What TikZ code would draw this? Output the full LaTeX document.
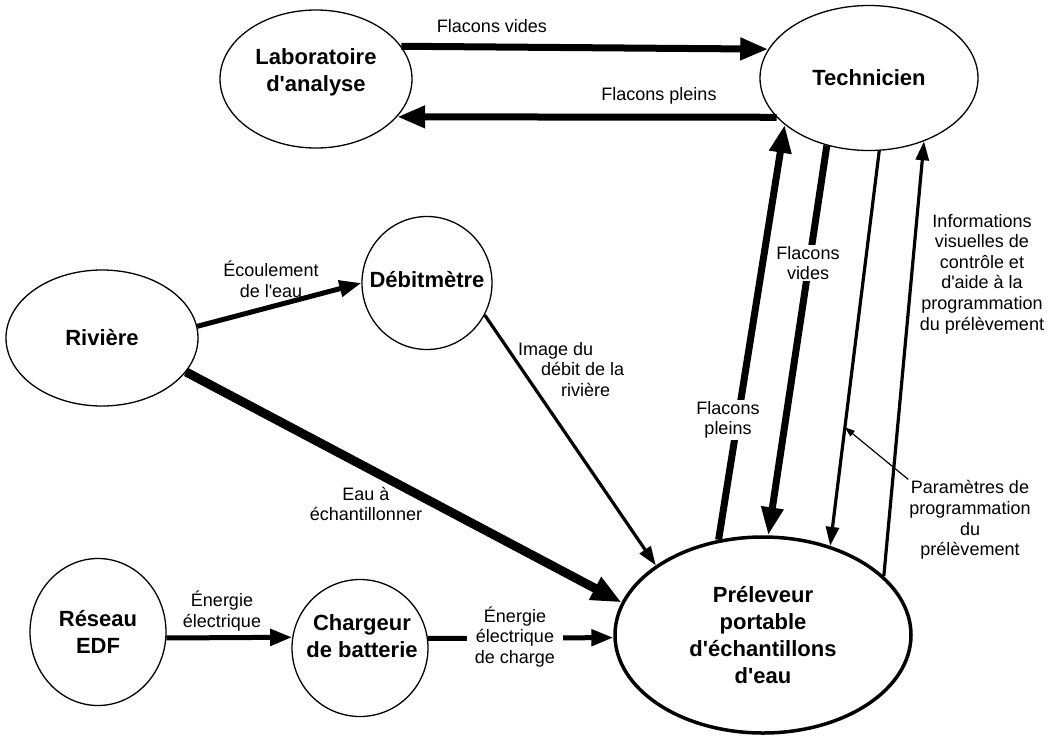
\documentclass[tikz,border=0pt]{standalone}
\usepackage{fontspec}
\setmainfont{Liberation Sans}[Ligatures=TeXOff]
\usetikzlibrary{shapes.geometric,arrows.meta}

\newcommand\bulfont{\fontsize{22}{27}\selectfont\bfseries}
\newcommand\etifont{\fontsize{18}{20.6}\selectfont}

\tikzset{
  bulle/.style={ellipse, draw, line width=1.3pt, inner sep=0pt, align=center, font=\bulfont},
  titre/.style={align=center, font=\bulfont, inner sep=0pt},
  etiq/.style={align=center, font=\etifont, inner sep=1pt},
  grosflux/.style={line width=7pt, -{Triangle[length=28pt,width=21pt]}},
  flux/.style={line width=5pt, -{Triangle[length=22pt,width=16pt]}},
  finflux/.style={line width=3.2pt, -{Triangle[length=19pt,width=13pt]}},
}

\begin{document}
\begin{tikzpicture}[x=1pt, y=-1pt]
    \useasboundingbox (0,0) rectangle (1057,745);
    % les bulles
    \node[bulle, minimum width=192pt, minimum height=138pt] (labo) at (316,79) {};
    \node[titre] (labotxt) at (316,72) {Laboratoire\\d'analyse};
    \node[bulle, minimum width=218pt, minimum height=145pt] (techn) at (869,78) {Technicien};
    \node[bulle, minimum width=130pt, minimum height=133pt] (debit) at (427,283) {};
    \node[titre] (debittxt) at (427,280) {Débitmètre};
    \node[bulle, minimum width=192pt, minimum height=136pt] (riviere) at (102,338) {Rivière};
    \node[bulle, minimum width=136pt, minimum height=147pt] (reseau) at (98,632) {Réseau\\EDF};
    \node[bulle, minimum width=136pt, minimum height=137pt] (chargeur) at (360,648) {};
    \node[titre] (chargtxt) at (362,636) {Chargeur\\de batterie};
    \node[bulle, line width=3.5pt, minimum width=296pt, minimum height=196pt] (preleveur) at (763,635) {Préleveur\\portable\\d'échantillons\\d'eau};

    % les flux
    \draw[grosflux] (labo.21) -- (techn.164);
    \draw[grosflux] (techn.203) -- (labo.335);
    \draw[flux] (riviere.7) -- (debit.180);
    \draw[line width=9pt, -{Triangle[length=30pt,width=24pt]}] (riviere.338) -- (preleveur.167);
    \draw[finflux] (debit.331) -- (preleveur.147.5);
    \draw[flux] (reseau.355) -- (chargeur.171.5);
    \draw[flux] (chargeur.8.5) -- (preleveur.181);
    \draw[grosflux] (preleveur.115.5) -- (techn.209);
    \draw[grosflux] (techn.238) -- (preleveur.87);
    \draw[finflux] (techn.278.5) -- coordinate[pos=0.70] (ppar) (preleveur.53.6);
    \draw[finflux] (preleveur.26) -- (techn.311.7);

    % les etiquettes
    \node[etiq] (lvides) at (492,26) {Flacons vides};
    \node[etiq] (lpleins) at (659,96) {Flacons pleins};
    \node[etiq] (lecoul) at (271,279) {Écoulement\\de l'eau};
    \node[etiq] (leau) at (366,504) {Eau à\\échantillonner};
    \node[etiq, align=left, anchor=north west] (limage) at (517,341) {Image du\\\hspace*{23pt}débit de la\\\hspace*{43pt}rivière};
    \node[etiq] (lenergie) at (222,611) {Énergie\\électrique};
    \node[etiq, fill=white, inner xsep=8pt] (lcharge) at (515,637) {Énergie\\électrique\\de charge};
    \node[etiq, fill=white] (lvvides) at (808,263) {Flacons\\vides};
    \node[etiq, fill=white] (lvpleins) at (728,420) {Flacons\\pleins};
    \node[etiq] (linfo) at (982,274) {Informations\\visuelles de\\contrôle et\\d'aide à la\\programmation\\du prélèvement};
    \node[etiq] (lparam) at (970,520) {Paramètres de\\programmation\\du\\prélèvement};
    \draw[line width=1.2pt, -{Triangle[length=10pt,width=7pt]}] (lparam.north west) -- (ppar);
\end{tikzpicture}
\end{document}
